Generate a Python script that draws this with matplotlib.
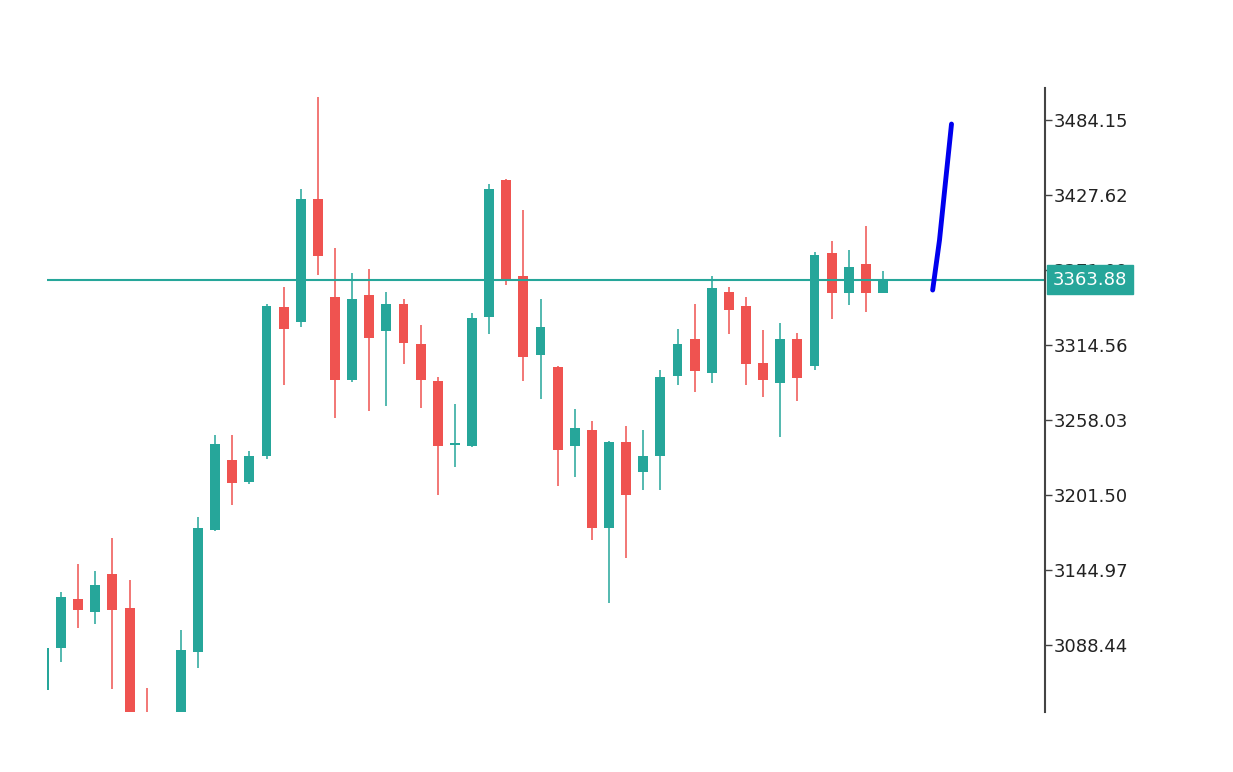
import matplotlib
matplotlib.use("Agg")
import matplotlib.pyplot as plt
import numpy as np

# OHLC
opens = [3054.6, 3086.2, 3123.1, 3113.3, 3142.0, 3116.4, 3028.2, 3012.0, 3020.0, 3083.2,
         3175.1, 3227.9, 3211.3, 3230.9, 3343.2, 3331.9, 3424.6, 3350.8, 3288.2, 3352.3,
         3325.1, 3345.5, 3315.3, 3287.4, 3239.2, 3238.5, 3335.7, 3438.9, 3366.6, 3307.0,
         3298.0, 3238.5, 3250.5, 3176.6, 3241.5, 3218.9, 3230.9, 3291.2, 3319.1, 3293.5,
         3354.5, 3344.0, 3301.0, 3285.9, 3319.1, 3298.8, 3383.9, 3353.8, 3375.6, 3353.8]
highs = [3088.5, 3128.4, 3149.5, 3144.2, 3169.1, 3137.5, 3056.1, 3030.0, 3099.8, 3184.9,
         3246.7, 3246.7, 3234.7, 3345.5, 3358.3, 3432.2, 3501.5, 3387.7, 3368.8, 3371.9,
         3354.5, 3349.2, 3329.6, 3290.5, 3270.1, 3338.7, 3435.9, 3439.5, 3416.3, 3349.2,
         3298.7, 3266.3, 3257.3, 3242.2, 3253.5, 3250.5, 3295.7, 3326.6, 3345.5, 3366.6,
         3358.3, 3350.8, 3325.9, 3331.2, 3323.6, 3384.7, 3393.0, 3386.2, 3404.3, 3370.3]
lows = [3050.8, 3075.6, 3101.3, 3104.3, 3055.3, 3016.9, 2994.3, 3004.0, 3012.0, 3071.1,
        3174.0, 3194.0, 3209.8, 3228.7, 3284.4, 3328.1, 3367.3, 3259.6, 3287.0, 3264.8,
        3268.6, 3300.3, 3267.1, 3201.5, 3222.6, 3237.8, 3322.9, 3359.8, 3287.4, 3273.9,
        3208.3, 3215.1, 3167.6, 3120.1, 3154.0, 3205.3, 3205.3, 3284.4, 3279.2, 3285.9,
        3322.9, 3284.4, 3275.4, 3245.2, 3272.4, 3295.7, 3334.2, 3344.7, 3339.4, 3353.8]
closes = [3086.2, 3124.6, 3114.8, 3133.7, 3114.8, 3031.9, 3009.3, 3026.0, 3084.7, 3176.6,
          3240.0, 3210.6, 3230.9, 3344.0, 3326.6, 3424.6, 3381.7, 3288.2, 3349.2, 3319.9,
          3345.5, 3316.1, 3288.2, 3238.5, 3240.7, 3334.9, 3432.2, 3363.6, 3305.5, 3328.1,
          3235.4, 3252.0, 3176.6, 3241.5, 3201.5, 3230.9, 3290.5, 3315.3, 3295.0, 3357.5,
          3341.0, 3300.3, 3288.2, 3319.1, 3289.7, 3382.4, 3353.8, 3373.4, 3353.8, 3363.88]

last_price = 3363.88
tick_vals = [3031.91, 3088.44, 3144.97, 3201.50, 3258.03, 3314.56, 3371.09, 3427.62, 3484.15]

# forecast line
fc_x = [51.9, 52.3, 52.6, 53.0]
fc_y = [3356.0, 3393.7, 3431.3, 3481.1]

UP = "#26a69a"
DOWN = "#ef5350"

fig = plt.figure(figsize=(12.33, 7.72), dpi=100)
ax = fig.add_axes([47 / 1233, 1 - 712 / 772, (1045 - 47) / 1233, (712 - 88) / 772])

for i, (o, h, l, c) in enumerate(zip(opens, highs, lows, closes)):
    col = UP if c >= o else DOWN
    ax.vlines(i, l, h, color=col, lw=1.3, alpha=0.85)
    ax.bar(i, max(abs(c - o), 0.8), bottom=min(o, c), width=0.58, color=col, lw=0)

ax.axhline(last_price, color=UP, lw=1.5)
ax.plot(fc_x, fc_y, color="#0000ee", lw=3.5, solid_capstyle="round")

for s in ["top", "left", "bottom"]:
    ax.spines[s].set_visible(False)
ax.spines["right"].set_color("#444444")
ax.spines["right"].set_linewidth(1.5)
ax.set_xticks([])
ax.yaxis.tick_right()
ax.set_yticks(tick_vals)
ax.set_yticklabels([f"{v:.2f}" for v in tick_vals])
ax.tick_params(axis="y", length=5, width=1, color="#444444", labelsize=13,
               labelcolor="#222222", pad=1)

ax.set_xlim(0.18, 58.46)
ax.set_ylim(3037.95, 3508.27)

ax.text(1.008, last_price, f"{last_price:.2f}", transform=ax.get_yaxis_transform(),
        ha="left", va="center", fontsize=13, color="white", zorder=10, clip_on=False,
        bbox=dict(boxstyle="square,pad=0.32", fc=UP, ec=UP))

fig.savefig("out.png", dpi=100)
